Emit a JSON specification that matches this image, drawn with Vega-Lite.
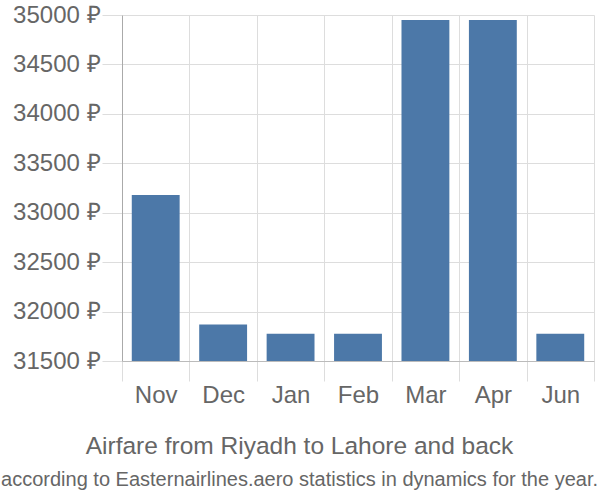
{
  "$schema": "https://vega.github.io/schema/vega-lite/v6.json",
  "autosize": "none",
  "width": 472,
  "height": 346,
  "padding": {"left": 122, "top": 15, "right": 6, "bottom": 139},
  "background": "white",
  "title": {
    "text": "Airfare from Riyadh to Lahore and back",
    "subtitle": "according to Easternairlines.aero statistics in dynamics for the year.",
    "orient": "bottom",
    "anchor": "middle",
    "frame": "bounds",
    "offset": 28,
    "font": "Liberation Sans",
    "fontSize": 24.5,
    "fontWeight": "normal",
    "color": "#666666",
    "subtitleFont": "Liberation Sans",
    "subtitleFontSize": 20,
    "subtitleColor": "#666666",
    "subtitlePadding": 10,
    "dx": -4
  },
  "data": {
    "values": [
      {"month": "Nov", "price": 33180},
      {"month": "Dec", "price": 31870},
      {"month": "Jan", "price": 31775},
      {"month": "Feb", "price": 31775},
      {"month": "Mar", "price": 34950},
      {"month": "Apr", "price": 34950},
      {"month": "Jun", "price": 31775}
    ]
  },
  "config": {
    "view": {"stroke": null},
    "axis": {
      "labelFont": "Liberation Sans",
      "labelFontSize": 24,
      "labelColor": "#666666",
      "gridColor": "#dddddd",
      "gridWidth": 1,
      "tickColor": "#dddddd",
      "tickSize": 20,
      "title": null
    }
  },
  "mark": {"type": "bar", "color": "#4c78a8", "width": {"band": 0.71}},
  "encoding": {
    "x": {
      "field": "month",
      "type": "nominal",
      "sort": null,
      "scale": {"paddingInner": 0, "paddingOuter": 0},
      "axis": {
        "labelAngle": 0,
        "tickBand": "extent",
        "grid": true,
        "domainColor": "#bbbbbb",
        "labelPadding": 2
      }
    },
    "y": {
      "field": "price",
      "type": "quantitative",
      "scale": {"domain": [31500, 35000], "zero": false, "nice": false},
      "axis": {
        "values": [31500, 32000, 32500, 33000, 33500, 34000, 34500, 35000],
        "labelExpr": "datum.value + ' ₽'",
        "domainColor": "#aaaaaa",
        "labelPadding": 2
      }
    },
    "y2": {"datum": 31500}
  }
}
